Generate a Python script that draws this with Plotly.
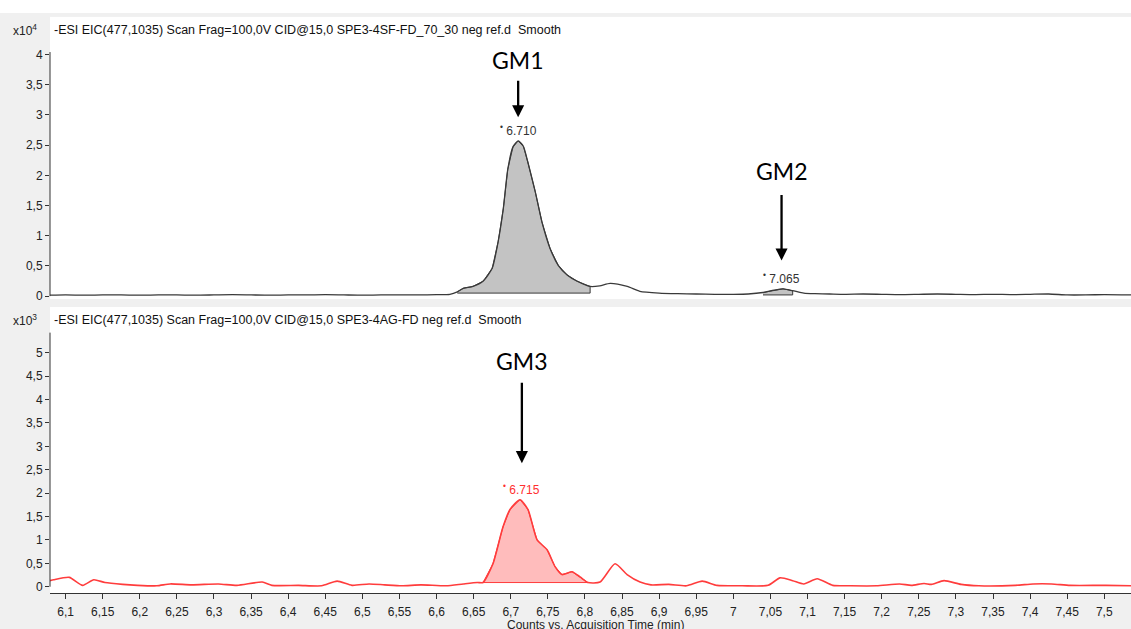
import plotly.graph_objects as go

W, H = 1131, 629

# ---------------- data ----------------
# Top trace: counts x10^4
time_top = [6.079, 6.10, 6.125, 6.15, 6.175, 6.20, 6.225, 6.25, 6.275, 6.30, 6.325, 6.35, 6.375,
            6.40, 6.425, 6.45, 6.475, 6.50, 6.525, 6.55, 6.575, 6.60, 6.618, 6.628, 6.636, 6.649,
            6.663, 6.675, 6.683, 6.690, 6.696, 6.703, 6.710, 6.717, 6.723, 6.733, 6.742, 6.753,
            6.764, 6.776, 6.789, 6.807, 6.820, 6.834, 6.857, 6.874, 6.90, 6.925, 6.95, 6.975,
            7.00, 7.02, 7.04, 7.055, 7.067, 7.08, 7.095, 7.11, 7.13, 7.15, 7.175, 7.20, 7.225,
            7.25, 7.275, 7.30, 7.325, 7.35, 7.375, 7.40, 7.425, 7.45, 7.475, 7.50, 7.536]
counts_top = [0.015, 0.02, 0.015, 0.02, 0.02, 0.015, 0.02, 0.02, 0.015, 0.02, 0.025, 0.02, 0.015,
              0.02, 0.02, 0.025, 0.02, 0.015, 0.02, 0.02, 0.02, 0.025, 0.03, 0.07, 0.13, 0.16,
              0.25, 0.46, 0.90, 1.45, 2.10, 2.47, 2.57, 2.48, 2.22, 1.73, 1.23, 0.79,
              0.51, 0.35, 0.25, 0.16, 0.17, 0.21, 0.16, 0.08, 0.05, 0.04, 0.035, 0.03,
              0.03, 0.035, 0.06, 0.10, 0.12, 0.09, 0.05, 0.04, 0.035, 0.03, 0.035, 0.03, 0.025,
              0.03, 0.035, 0.03, 0.025, 0.03, 0.025, 0.03, 0.035, 0.02, 0.02, 0.025, 0.02]

# Bottom trace: counts x10^3
time_bot = [6.079, 6.084, 6.105, 6.123, 6.138, 6.153, 6.177, 6.197, 6.223, 6.241, 6.27, 6.306,
            6.331, 6.365, 6.378, 6.414, 6.445, 6.466, 6.486, 6.509, 6.53, 6.553, 6.579, 6.613,
            6.636, 6.655, 6.6627, 6.676, 6.6896, 6.699, 6.7125, 6.7233, 6.7355, 6.749, 6.7597,
            6.769, 6.7826, 6.7934, 6.804, 6.8204, 6.8406, 6.8568, 6.8743, 6.889, 6.913, 6.937,
            6.958, 6.978, 7.012, 7.047, 7.063, 7.08, 7.095, 7.113, 7.134, 7.158, 7.193, 7.224,
            7.24, 7.257, 7.267, 7.284, 7.307, 7.331, 7.38, 7.404, 7.429, 7.454, 7.502, 7.536]
counts_bot = [0.13, 0.15, 0.20, 0.03, 0.15, 0.09, 0.05, 0.03, 0.02, 0.06, 0.04, 0.06,
              0.03, 0.10, 0.03, 0.03, 0.02, 0.12, 0.03, 0.06, 0.04, 0.02, 0.04, 0.02,
              0.06, 0.09, 0.09, 0.49, 1.28, 1.65, 1.86, 1.65, 1.00, 0.79, 0.43,
              0.26, 0.32, 0.21, 0.09, 0.10, 0.49, 0.26, 0.10, 0.04, 0.05, 0.02,
              0.12, 0.03, 0.02, 0.03, 0.19, 0.13, 0.06, 0.17, 0.03, 0.02, 0.02, 0.06,
              0.03, 0.07, 0.05, 0.13, 0.05, 0.02, 0.03, 0.06, 0.06, 0.03, 0.03, 0.02]

# integrated peaks: (start, end, baseline, apex time, label)
peaks_top = [(6.628, 6.807, 0.05, 6.710, "6.710"), (7.04, 7.08, 0.02, 7.065, "7.065")]
peaks_bot = [(6.6627, 6.804, 0.09, 6.715, "6.715")]

x_ticks = [6.10, 6.15, 6.20, 6.25, 6.30, 6.35, 6.40, 6.45, 6.50, 6.55, 6.60, 6.65, 6.70, 6.75,
           6.80, 6.85, 6.90, 6.95, 7.00, 7.05, 7.10, 7.15, 7.20, 7.25, 7.30, 7.35, 7.40, 7.45, 7.50]
x_ticklabels = ["6,1", "6,15", "6,2", "6,25", "6,3", "6,35", "6,4", "6,45", "6,5", "6,55", "6,6",
                "6,65", "6,7", "6,75", "6,8", "6,85", "6,9", "6,95", "7", "7,05", "7,1", "7,15",
                "7,2", "7,25", "7,3", "7,35", "7,4", "7,45", "7,5"]
y_ticks_top = [0, 0.5, 1, 1.5, 2, 2.5, 3, 3.5, 4]
y_ticklabels_top = ["0", "0,5", "1", "1,5", "2", "2,5", "3", "3,5", "4"]
y_ticks_bot = [0, 0.5, 1, 1.5, 2, 2.5, 3, 3.5, 4, 4.5, 5]
y_ticklabels_bot = ["0", "0,5", "1", "1,5", "2", "2,5", "3", "3,5", "4", "4,5", "5"]

header_top = "-ESI EIC(477,1035) Scan Frag=100,0V CID@15,0 SPE3-4SF-FD_70_30 neg ref.d  Smooth"
header_bot = "-ESI EIC(477,1035) Scan Frag=100,0V CID@15,0 SPE3-4AG-FD neg ref.d  Smooth"
markers = [("GM1", "top", 6.710, 2.96, 38, 60), ("GM2", "top", 7.065, 0.59, 67, 172),
           ("GM3", "bot", 6.715, 2.64, 82, 363)]


def py(px):
    return 1 - px / H


FONT = "Liberation Sans"
TOP_C, TOP_FILL = "#3a3a3a", "#c3c3c3"
BOT_C, BOT_FILL = "#ff3c3c", "#ffbcbc"

fig = go.Figure()


def add_fill(times, vals, peak, xa, ya, line_c, fill_c):
    start, end, base = peak[0], peak[1], peak[2]
    px_ = [t for t in times if start <= t <= end]
    py_ = [v for t, v in zip(times, vals) if start <= t <= end]
    fig.add_trace(go.Scatter(x=px_ + [px_[-1], px_[0]], y=py_ + [base, base], mode="lines",
                             fill="toself", fillcolor=fill_c, line=dict(color=line_c, width=1),
                             xaxis=xa, yaxis=ya, hoverinfo="skip", showlegend=False))


for pk in peaks_top:
    add_fill(time_top, counts_top, pk, "x", "y", TOP_C, TOP_FILL)
for pk in peaks_bot:
    add_fill(time_bot, counts_bot, pk, "x2", "y2", BOT_C, BOT_FILL)

fig.add_trace(go.Scatter(x=time_top, y=counts_top, mode="lines",
                         line=dict(color=TOP_C, width=1.3, shape="spline", smoothing=0.6),
                         xaxis="x", yaxis="y", showlegend=False))
fig.add_trace(go.Scatter(x=time_bot, y=counts_bot, mode="lines",
                         line=dict(color=BOT_C, width=1.6, shape="spline", smoothing=0.6),
                         xaxis="x2", yaxis="y2", showlegend=False))

annotations = []
tickfont = dict(family=FONT, size=12, color="#222")
for txt, py_px in [("x10<sup>4</sup>", 30), ("x10<sup>3</sup>", 322)]:
    annotations.append(dict(text=txt, x=11 / W, y=py(py_px), xref="paper", yref="paper",
                            xanchor="left", yanchor="middle", showarrow=False, font=tickfont))
for txt, py_px in [(header_top, 30), (header_bot, 322)]:
    annotations.append(dict(text=txt, x=52 / W, y=py(py_px), xref="paper", yref="paper",
                            xanchor="left", yanchor="middle", showarrow=False,
                            font=dict(family=FONT, size=12.5, color="#111")))

# apex labels
for peaks, times, vals, xa, ya, col in [(peaks_top, time_top, counts_top, "x", "y", "#333"),
                                        (peaks_bot, time_bot, counts_bot, "x2", "y2", "#ff3030")]:
    for pk in peaks:
        apex = max(v for t, v in zip(times, vals) if pk[0] <= t <= pk[1])
        annotations.append(dict(text="<sup>•</sup> " + pk[4],
                                x=pk[3], y=apex, xref=xa, yref=ya, xanchor="center",
                                yanchor="bottom", yshift=1, showarrow=False,
                                font=dict(family=FONT, size=12, color=col)))

# GM markers
for name, panel, xt, ytip, length, text_px in markers:
    xa, ya = ("x", "y") if panel == "top" else ("x2", "y2")
    annotations.append(dict(text="", x=xt, y=ytip, xref=xa, yref=ya, ax=0, ay=-length,
                            showarrow=True, arrowhead=2, arrowsize=1.05, arrowwidth=2.3,
                            arrowcolor="black"))
    annotations.append(dict(text=name, x=xt, y=py(text_px), xref=xa, yref="paper",
                            xanchor="center", yanchor="middle", showarrow=False,
                            font=dict(family="Lato", size=23, color="black")))

annotations.append(dict(text="Counts vs. Acquisition Time (min)", x=595 / W, y=py(620),
                        xref="paper", yref="paper", xanchor="center", yanchor="top",
                        showarrow=False, font=dict(family=FONT, size=12, color="#222")))

shapes = [
    dict(type="rect", xref="paper", yref="paper", x0=0, x1=1, y0=py(13), y1=1,
         fillcolor="white", line=dict(width=0), layer="below"),
    dict(type="line", xref="x domain", yref="y", x0=0, x1=0, y0=0, y1=4.04,
         line=dict(color="#333", width=1)),
    dict(type="line", xref="x2 domain", yref="y2", x0=0, x1=0, y0=0, y1=5.43,
         line=dict(color="#333", width=1)),
]

x_dom = [50 / W, 1]
x_range = [6.079, 7.536]
fig.update_layout(
    width=W, height=H, autosize=False, margin=dict(l=0, r=0, t=0, b=0),
    paper_bgcolor="#f0f0f0", plot_bgcolor="white", showlegend=False,
    xaxis=dict(domain=x_dom, range=x_range, anchor="y", showticklabels=False, ticks="",
               showgrid=False, zeroline=False, showline=False),
    yaxis=dict(domain=[py(301), py(17)], range=[-0.049, 4.622], anchor="x",
               tickvals=y_ticks_top, ticktext=y_ticklabels_top, ticks="outside", ticklen=4,
               tickcolor="#333", showgrid=False, zeroline=False, showline=False,
               tickfont=tickfont),
    xaxis2=dict(domain=x_dom, range=x_range, anchor="y2", tickvals=x_ticks,
                ticktext=x_ticklabels, ticks="outside", ticklen=5, tickcolor="#333",
                ticklabelstandoff=2,
                showline=True, linecolor="#333", linewidth=1, showgrid=False,
                zeroline=False, tickfont=tickfont),
    yaxis2=dict(domain=[py(597), py(309)], range=[-0.138, 5.977], anchor="x2",
                tickvals=y_ticks_bot, ticktext=y_ticklabels_bot, ticks="outside", ticklen=4,
                tickcolor="#333", showgrid=False, zeroline=False, showline=False,
                tickfont=tickfont),
    annotations=annotations, shapes=shapes,
)

fig.write_html("out.html", config={"displayModeBar": False},
               post_script="document.body.style.margin='0';document.body.style.overflow='hidden';")
